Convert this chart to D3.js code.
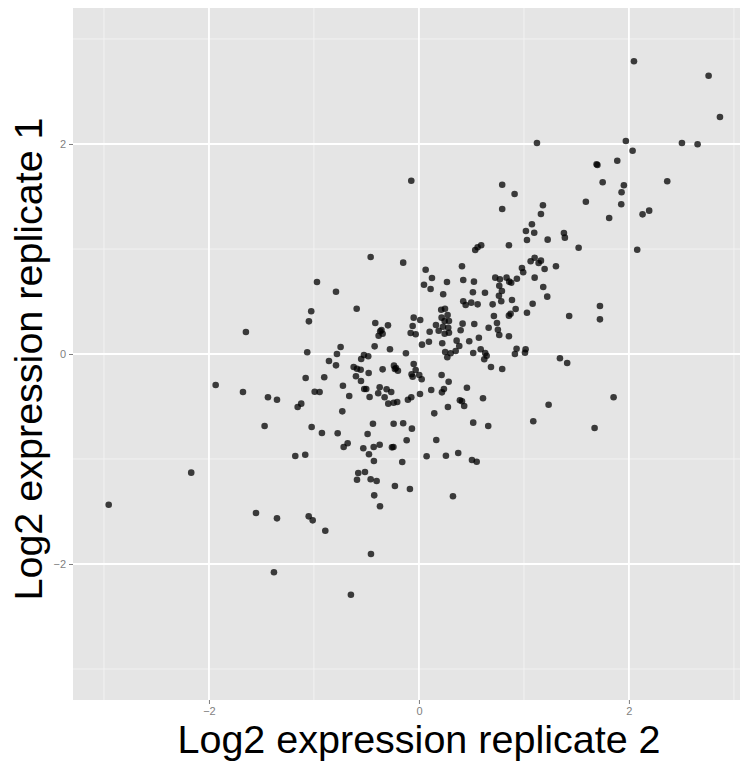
<!DOCTYPE html>
<html>
<head>
<meta charset="utf-8">
<script src="https://cdn.jsdelivr.net/npm/d3@7"></script>
<style>
  body { margin: 0; background: #ffffff; }
  svg { display: block; }
</style>
</head>
<body>
<svg id="chart" width="752" height="770"></svg>
<script>
// Log2 expression, replicate 2 (x) and replicate 1 (y), one entry per gene
const rep2 = [
  1.124, -0.073, 0.793, 0.911, 0.793, 1.181, 1.162, 1.076, 1.019, 1.098,
  2.048, 2.759, 1.971, 2.505, 2.654, 2.035, 1.889, 1.692, 1.700, 1.750,
  2.365, 1.952, 1.930, 1.590, 1.927, 2.193, 2.130, 1.812, 1.381, 2.867,
  1.390, 1.521, 2.079, 1.305, 1.724, 1.431, 1.724, 1.343, 1.412, 1.854,
  1.673,
  1.029, 1.226, 0.593, 0.559, 0.536, 0.857, -0.150, 1.102, 1.064, 1.140,
  1.162, 1.197, 0.981, 0.993, 0.064, 0.410, 0.124, 0.048, 0.111, 0.267,
  0.422, 0.524, 0.727, 0.771, 0.835, 0.860, 0.879, 0.933, 1.102, 0.765,
  1.184, 0.790, 0.231, 0.514, 0.629, 0.762, 1.222, 0.886, 0.784, 0.422,
  0.445, 0.498, 0.559, 0.702, 1.083, 0.212, 0.248, 0.921, 0.857, 0.873,
  1.029, 0.714, 0.273, 0.216, -0.050, 0.012, 0.245, 0.286, 0.743, 0.162,
  0.416, 0.527, -0.060, 0.229, 0.279, 0.664, 0.188, 0.102, 0.397, 0.752,
  0.245, 0.286, -0.079, -0.031, 0.571, 0.765, 0.857, 0.359, 0.479, 0.095,
  0.222, 0.029, 0.384, 0.588, 0.930, 1.016, 0.250, 0.350, 0.302, 0.517,
  0.631, 0.645, 0.914, 1.010, -0.124, 0.270, 0.622, -0.050, 0.686, 0.793,
  -0.031, -0.070, -0.060, 0.003, 0.026, 0.216, 0.283, 0.457, 0.117, 0.238,
  0.219, 0.010, -0.073, -0.105, 0.390, 0.410, 0.610, 0.431, 0.276, 1.235,
  0.146,
  -0.150, -0.067, 0.517, 0.660, 1.089, -0.117, 0.165, 0.073, 0.257, 0.374,
  0.505, 0.550, -0.159, -0.086, 0.324,
  -0.460, -0.971, -0.790, -0.593, -1.026, -1.048, -1.648, -0.416, -0.295, -0.369,
  -0.357, -0.346, -0.384, -0.422, -0.276, -0.746, -1.064, -0.781, -0.524, -0.483,
  -0.550, -0.857, -0.790, -0.622, -0.590, -0.555, -0.346, -0.479, -0.238, -0.229,
  -0.219, -0.200, -0.600, -0.552, -1.079, -0.902, -0.724, -0.521, -0.502, -0.374,
  -0.308, -0.264, -0.388, -0.327, -0.993, -0.946, -0.664, -0.470, -1.438, -1.352,
  -0.292, -0.241, -0.207, -1.121, -1.155, -0.730,
  -1.936, -1.676,
  -1.470, -1.022, -0.924, -0.774, -0.438, -0.241, -0.489, -0.679, -0.717, -0.530,
  -0.431, -0.374, -0.257, -0.243, -1.178, -1.083, -0.476, -0.429, -0.578, -0.514,
  -0.590, -0.460, -0.403, -0.229, -0.426, -0.371, -1.552, -1.352, -1.050, -1.012,
  -0.892, -0.457, -1.381, -0.648,
  -2.169, -2.955
];
const rep1 = [
  2.010, 1.650, 1.612, 1.524, 1.381, 1.416, 1.333, 1.235, 1.171, 1.155,
  2.788, 2.650, 2.029, 2.010, 1.997, 1.936, 1.841, 1.807, 1.800, 1.635,
  1.645, 1.607, 1.540, 1.450, 1.426, 1.365, 1.330, 1.295, 1.152, 2.257,
  1.108, 1.012, 0.993, 0.835, 0.457, 0.362, 0.330, -0.041, -0.086, -0.412,
  -0.705,
  1.086, 1.089, 1.035, 1.016, 0.990, 1.035, 0.870, 0.917, 0.883, 0.867,
  0.889, 0.810, 0.819, 0.778, 0.803, 0.835, 0.724, 0.660, 0.619, 0.686,
  0.705, 0.689, 0.727, 0.711, 0.727, 0.689, 0.679, 0.717, 0.727, 0.650,
  0.638, 0.600, 0.569, 0.588, 0.584, 0.555, 0.546, 0.514, 0.502, 0.502,
  0.467, 0.489, 0.473, 0.473, 0.479, 0.422, 0.431, 0.429, 0.365, 0.384,
  0.393, 0.362, 0.371, 0.346, 0.346, 0.324, 0.314, 0.314, 0.295, 0.276,
  0.289, 0.286, 0.267, 0.260, 0.250, 0.250, 0.222, 0.212, 0.226, 0.231,
  0.193, 0.203, 0.200, 0.188, 0.155, 0.181, 0.169, 0.127, 0.121, 0.117,
  0.102, 0.089, 0.076, 0.045, 0.050, 0.045, 0.019, 0.029, 0.007, 0.010,
  0.010, -0.016, 0.000, 0.012, 0.007, -0.031, -0.050, -0.095, -0.124, -0.143,
  -0.152, -0.193, -0.216, -0.200, -0.241, -0.200, -0.264, -0.321, -0.343, -0.333,
  -0.365, -0.381, -0.412, -0.435, -0.441, -0.450, -0.422, -0.495, -0.505, -0.483,
  -0.565,
  -0.660, -0.711, -0.654, -0.686, -0.641, -0.822, -0.819, -0.974, -0.969, -0.943,
  -1.010, -1.026, -1.029, -1.286, -1.355,
  0.924, 0.686, 0.593, 0.431, 0.407, 0.311, 0.210, 0.295, 0.273, 0.216,
  0.229, 0.193, 0.174, 0.073, 0.045, 0.067, 0.016, 0.000, -0.010, -0.022,
  -0.048, -0.067, -0.108, -0.124, -0.140, -0.150, -0.146, -0.181, -0.111, -0.143,
  -0.133, -0.159, -0.212, -0.257, -0.229, -0.222, -0.302, -0.333, -0.333, -0.317,
  -0.336, -0.362, -0.374, -0.412, -0.359, -0.362, -0.400, -0.410, -0.412, -0.435,
  -0.473, -0.464, -0.457, -0.473, -0.505, -0.546,
  -0.295, -0.362,
  -0.686, -0.695, -0.752, -0.755, -0.664, -0.664, -0.762, -0.850, -0.886, -0.898,
  -0.886, -0.864, -0.889, -0.886, -0.971, -0.959, -0.955, -1.019, -1.133, -1.124,
  -1.197, -1.193, -1.210, -1.257, -1.346, -1.450, -1.514, -1.565, -1.546, -1.584,
  -1.683, -1.905, -2.079, -2.292,
  -1.130, -1.435
];

// Axis breaks and labels
const xMajor = [-2, 0, 2];
const yMajor = [-2, 0, 2];
const xMinor = [-3, -1, 1, 3];
const yMinor = [-3, -1, 1, 3];
const xTitle = "Log2 expression replicate 2";
const yTitle = "Log2 expression replicate 1";

const points = rep2.map((v, i) => ({ x: v, y: rep1[i] }));

const svg = d3.select("#chart");
const panel = { left: 73, right: 740, top: 8, bottom: 700 };

const x = d3.scaleLinear().domain([-3.295, 3.058]).range([panel.left, panel.right]);
const y = d3.scaleLinear().domain([-3.295, 3.295]).range([panel.bottom, panel.top]);

// Panel background
svg.append("rect")
  .attr("x", panel.left).attr("y", panel.top)
  .attr("width", panel.right - panel.left)
  .attr("height", panel.bottom - panel.top)
  .attr("fill", "#e5e5e5");

const grid = svg.append("g");
// Minor grid
grid.selectAll("line.vmin").data(xMinor).join("line")
  .attr("x1", d => x(d)).attr("x2", d => x(d))
  .attr("y1", panel.top).attr("y2", panel.bottom)
  .attr("stroke", "#f2f2f2").attr("stroke-width", 1);
grid.selectAll("line.hmin").data(yMinor).join("line")
  .attr("y1", d => y(d)).attr("y2", d => y(d))
  .attr("x1", panel.left).attr("x2", panel.right)
  .attr("stroke", "#f2f2f2").attr("stroke-width", 1);
// Major grid
grid.selectAll("line.vmaj").data(xMajor).join("line")
  .attr("x1", d => x(d)).attr("x2", d => x(d))
  .attr("y1", panel.top).attr("y2", panel.bottom)
  .attr("stroke", "#ffffff").attr("stroke-width", 1.8);
grid.selectAll("line.hmaj").data(yMajor).join("line")
  .attr("y1", d => y(d)).attr("y2", d => y(d))
  .attr("x1", panel.left).attr("x2", panel.right)
  .attr("stroke", "#ffffff").attr("stroke-width", 1.8);

// Points
svg.append("g").selectAll("circle").data(points).join("circle")
  .attr("cx", d => x(d.x))
  .attr("cy", d => y(d.y))
  .attr("r", 3.3)
  .attr("fill", "#000000")
  .attr("fill-opacity", 0.75);

// Axes
const xAxis = svg.append("g")
  .attr("transform", `translate(0,${panel.bottom})`)
  .call(d3.axisBottom(x).tickValues(xMajor).tickSize(4).tickPadding(3)
    .tickFormat(d3.format("d")));
const yAxis = svg.append("g")
  .attr("transform", `translate(${panel.left},0)`)
  .call(d3.axisLeft(y).tickValues(yMajor).tickSize(4).tickPadding(3)
    .tickFormat(d3.format("d")));

[xAxis, yAxis].forEach(a => {
  a.select(".domain").remove();
  a.selectAll(".tick line").attr("stroke", "#7f7f7f");
  a.selectAll(".tick text")
    .attr("fill", "#7f7f7f")
    .style("font-family", "'Liberation Sans', Arial, sans-serif")
    .style("font-size", "11px");
});

// Axis titles
svg.append("text")
  .attr("x", 419)
  .attr("y", 753)
  .attr("text-anchor", "middle")
  .style("font-family", "'Liberation Sans', Arial, sans-serif")
  .style("font-size", "39.5px")
  .attr("fill", "#000")
  .text(xTitle);

svg.append("text")
  .attr("transform", "translate(42,359) rotate(-90)")
  .attr("text-anchor", "middle")
  .style("font-family", "'Liberation Sans', Arial, sans-serif")
  .style("font-size", "39.5px")
  .attr("fill", "#000")
  .text(yTitle);
</script>
</body>
</html>
